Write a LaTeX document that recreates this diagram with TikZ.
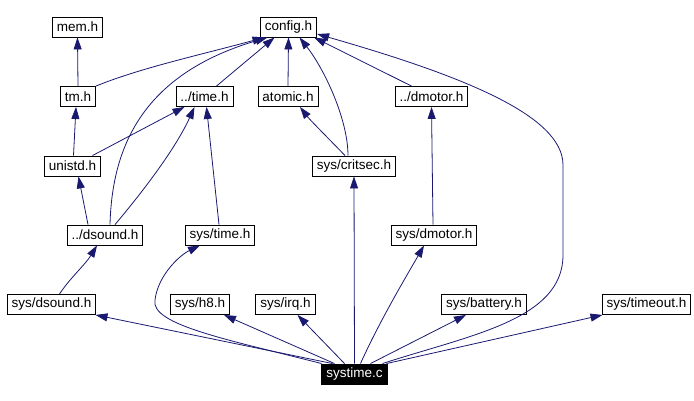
\documentclass[tikz,border=0pt]{standalone}
\usepackage{fontspec}
\setmainfont{Liberation Sans}
\usetikzlibrary{arrows.meta}
\definecolor{navy}{RGB}{25,25,112}

\begin{document}
\begin{tikzpicture}[x=1pt,y=-1pt,
    hfile/.style={draw=black,fill=white,line width=0.9pt,inner xsep=4.5pt,inner ysep=0pt,
      minimum height=20pt,font=\fontsize{13.5}{14}\selectfont},
    cfile/.style={hfile,fill=black,text=white},
    dep/.style={navy,line width=0.8pt,-{Triangle[length=12pt,width=8pt]}}]
  \useasboundingbox (0,0) rectangle (694,401);
  % header files
  \node[hfile] (memh) at (77.5,27){mem.h};
  \node[hfile] (configh) at (288.5,27){config.h};
  \node[hfile] (tmh) at (78,96.5){tm.h};
  \node[hfile] (timeh) at (204.5,96.5){../time.h};
  \node[hfile] (atomich) at (288,96.5){atomic.h};
  \node[hfile] (dmotorh) at (431.5,96.5){../dmotor.h};
  \node[hfile] (unistdh) at (72.5,166){unistd.h};
  \node[hfile] (critsech) at (354,166){sys/critsec.h};
  \node[hfile] (dsoundh) at (105,235){../dsound.h};
  \node[hfile] (systimeh) at (220,235){sys/time.h};
  \node[hfile] (sysdmotorh) at (434,235){sys/dmotor.h};
  \node[hfile] (sysdsoundh) at (51.5,304.5){sys/dsound.h};
  \node[hfile] (sysh8h) at (200,304.5){sys/h8.h};
  \node[hfile] (sysirqh) at (285.5,304.5){sys/irq.h};
  \node[hfile] (sysbatteryh) at (484,304.5){sys/battery.h};
  \node[hfile] (systimeouth) at (646.5,304.5){sys/timeout.h};
  \node[cfile] (sysc) at (354.5,374){systime.c};
  % includes of config.h
  \draw[dep] (tmh.north east) .. controls (140,68) and (200,55) .. ([xshift=-24pt]configh.south);
  \draw[dep] ([xshift=5pt]dsoundh.north) .. controls (112,150) and (140,75) .. ([xshift=-21pt]configh.south);
  \draw[dep] ([xshift=12pt]timeh.north) -- ([xshift=-14pt]configh.south);
  \draw[dep] (atomich.north) -- (configh.south);
  \draw[dep] ([xshift=-6pt]critsech.north) .. controls (348,120) and (325,70) .. ([xshift=11pt]configh.south);
  \draw[dep] ([xshift=-20pt]dmotorh.north) -- ([xshift=-3pt]configh.south east);
  \draw[dep] ([xshift=28pt]sysc.north) .. controls (470,335) and (563,320) .. (563,255)
    -- (563,165) .. controls (563,115) and (460,75) .. ([yshift=-7pt]configh.east);
  % other headers
  \draw[dep] (tmh.north) -- (memh.south);
  \draw[dep] ([xshift=1pt]unistdh.north) -- ([xshift=-2pt]tmh.south);
  \draw[dep] ([xshift=20pt]unistdh.north) -- ([xshift=-20pt]timeh.south);
  \draw[dep] ([xshift=-17pt]dsoundh.north) -- ([xshift=6pt]unistdh.south);
  \draw[dep] ([xshift=10pt]dsoundh.north) .. controls (140,195) and (175,150) .. ([xshift=-10pt]timeh.south);
  \draw[dep] ([xshift=-1pt]systimeh.north) -- ([xshift=2pt]timeh.south);
  \draw[dep] ([xshift=-9pt]critsech.north) .. controls (330,140) and (310,120) .. ([xshift=12pt]atomich.south);
  \draw[dep] ([xshift=-1pt]sysdmotorh.north) -- (dmotorh.south);
  \draw[dep] ([xshift=8pt]sysdsoundh.north) .. controls (70,278) and (85,265) .. ([xshift=-8pt]dsoundh.south);
  % includes of systime.c
  \draw[dep] ([xshift=-22pt]sysc.north) -- ([xshift=44pt]sysdsoundh.south);
  \draw[dep] ([xshift=-33pt]sysc.north) .. controls (230,340) and (150,325) .. (155,300)
    .. controls (158,275) and (180,255) .. ([xshift=-20pt]systimeh.south);
  \draw[dep] ([xshift=-20pt]sysc.north) -- ([xshift=24pt]sysh8h.south);
  \draw[dep] ([xshift=-10pt]sysc.north) -- ([xshift=12pt]sysirqh.south);
  \draw[dep] (sysc.north) -- (critsech.south);
  \draw[dep] ([xshift=6pt]sysc.north) .. controls (380,320) and (410,270) .. ([xshift=-10pt]sysdmotorh.south);
  \draw[dep] ([xshift=16pt]sysc.north) -- ([xshift=-18pt]sysbatteryh.south);
  \draw[dep] ([xshift=32pt]sysc.north) -- ([xshift=-44pt]systimeouth.south);
\end{tikzpicture}
\end{document}
